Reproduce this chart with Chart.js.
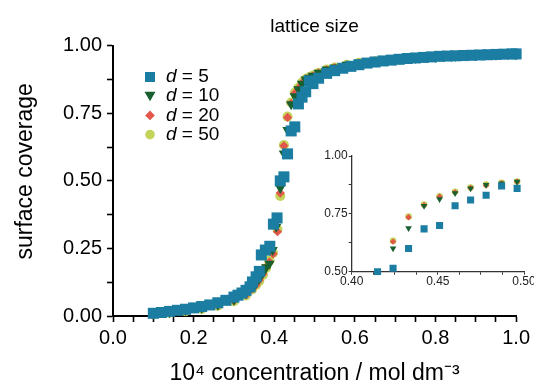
<!DOCTYPE html>
<html>
<head>
<meta charset="utf-8">
<script src="https://cdn.jsdelivr.net/npm/chart.js@4.4.0/dist/chart.umd.min.js"></script>
<style>
  html, body { margin: 0; padding: 0; background: #fff; overflow: hidden; }
  #wrap { position: relative; width: 534px; height: 390px; overflow: hidden; }
  #main { position: absolute; left: 0; top: 0; }
  #inset { position: absolute; left: 300px; top: 140px; }
</style>
</head>
<body>
<div id="wrap">
  <canvas id="main" width="534" height="390"></canvas>
  <canvas id="inset" width="260" height="160"></canvas>
</div>
<script>
// lattice sizes and their colours / markers
const latticeSizes = [5, 10, 20, 50];
const seriesColors = ['#1c7da2', '#18602f', '#e3574a', '#c4d45a'];
const seriesStyles = ['rect', 'triangle', 'rectRot', 'circle'];
const seriesRotation = [0, 180, 0, 0];

// concentration (10^4 mol dm^-3) and surface coverage
const d5Conc = [0.10,0.12,0.14,0.16,0.18,0.20,0.22,0.24,0.26,0.28,0.30,0.31,0.32,0.33,0.34,
  0.346,0.355,0.363,0.368,0.378,0.389,0.398,0.407,
  0.415,0.424,0.433,0.442,0.451,0.460,0.469,0.478,0.487,0.496,
  0.51,0.53,0.55,0.57,0.59,0.61,0.63,0.65,0.67,0.69,0.71,0.73,0.75,0.77,0.79,0.81,0.83,0.85,0.87,0.89,0.91,0.93,0.95,0.97,0.99,1.00];
const d5Cov = [0.010,0.013,0.017,0.021,0.025,0.030,0.035,0.041,0.049,0.058,0.070,0.077,0.085,0.095,0.108,
  0.126,0.145,0.165,0.226,0.244,0.258,0.340,0.363,
  0.500,0.515,0.600,0.685,0.700,0.785,0.810,0.830,0.870,0.860,
  0.880,0.898,0.908,0.917,0.924,0.930,0.936,0.940,0.944,0.947,0.950,0.953,0.955,0.957,0.959,0.961,0.962,0.963,0.964,0.965,0.966,0.967,0.968,0.969,0.970,0.970];

const d10Conc = [0.10,0.14,0.18,0.22,0.26,0.30,0.33,0.35,0.363,0.372,0.380,0.388,0.396,0.405,
  0.415,0.424,0.433,0.442,0.451,0.460,0.469,0.478,0.487,0.496,
  0.51,0.53,0.55,0.58,0.61,0.65,0.70,0.75,0.80,0.85,0.90,0.95,1.00];
const d10Cov = [0.008,0.014,0.021,0.030,0.042,0.060,0.085,0.110,0.140,0.160,0.180,0.193,0.244,0.330,
  0.474,0.601,0.688,0.784,0.813,0.839,0.860,0.875,0.882,0.889,
  0.900,0.912,0.920,0.930,0.937,0.943,0.949,0.955,0.959,0.962,0.965,0.967,0.969];

const d20Conc = [0.10,0.14,0.18,0.22,0.26,0.30,0.33,0.345,0.355,0.363,0.372,0.380,0.388,0.397,0.408,
  0.415,0.424,0.433,0.442,0.451,0.460,0.469,0.478,0.487,0.496,
  0.51,0.53,0.55,0.58,0.61,0.65,0.70,0.75,0.80,0.85,0.90,0.95,1.00];
const d20Cov = [0.007,0.012,0.019,0.027,0.039,0.056,0.078,0.100,0.115,0.133,0.155,0.180,0.200,0.230,0.312,
  0.455,0.630,0.735,0.787,0.824,0.843,0.862,0.873,0.882,0.889,
  0.899,0.911,0.919,0.929,0.936,0.942,0.948,0.954,0.958,0.961,0.964,0.966,0.968];

const d50Conc = [0.10,0.14,0.18,0.22,0.26,0.30,0.33,0.345,0.355,0.363,0.372,0.380,0.388,0.397,0.408,
  0.415,0.424,0.433,0.442,0.451,0.460,0.469,0.478,0.487,0.496,
  0.51,0.53,0.55,0.58,0.61,0.65,0.70,0.75,0.80,0.85,0.90,0.95,1.00];
const d50Cov = [0.007,0.012,0.018,0.026,0.038,0.055,0.076,0.098,0.115,0.130,0.152,0.178,0.205,0.233,0.320,
  0.444,0.633,0.738,0.790,0.826,0.845,0.864,0.877,0.884,0.890,
  0.900,0.912,0.920,0.930,0.937,0.943,0.949,0.955,0.959,0.962,0.965,0.967,0.969];

const allConc = [d5Conc, d10Conc, d20Conc, d50Conc];
const allCov = [d5Cov, d10Cov, d20Cov, d50Cov];

const FONT = "'Liberation Sans', Arial, Helvetica, sans-serif";

function onStep(v, step) {
  return Math.abs(v / step - Math.round(v / step)) < 1e-6;
}

function buildSets(radii, clip) {
  return latticeSizes.map(function (d, i) {
    return {
      label: 'd = ' + d,
      data: allConc[i].map(function (x, k) { return { x: x, y: allCov[i][k] }; }),
      showLine: false,
      pointStyle: seriesStyles[i],
      pointRotation: seriesRotation[i],
      pointRadius: radii[i],
      pointHoverRadius: radii[i],
      backgroundColor: seriesColors[i],
      pointBackgroundColor: seriesColors[i],
      borderColor: seriesColors[i],
      pointBorderWidth: 0,
      clip: clip
    };
  });
}

// legend drawn inside the plot, with an italic d
const insideLegend = {
  id: 'insideLegend',
  afterDatasetsDraw(chart) {
    const ctx = chart.ctx;
    const x0 = 150, y0 = 77, gap = 19.2;
    ctx.save();
    chart.data.datasets.forEach(function (ds, i) {
      const y = y0 + i * gap;
      ctx.fillStyle = seriesColors[i];
      ctx.beginPath();
      if (i === 0) {
        ctx.rect(x0 - 5, y - 5, 10, 10);
      } else if (i === 1) {
        ctx.moveTo(x0 - 5.5, y - 4.5);
        ctx.lineTo(x0 + 5.5, y - 4.5);
        ctx.lineTo(x0, y + 5);
      } else if (i === 2) {
        ctx.moveTo(x0, y - 4.8);
        ctx.lineTo(x0 + 4.8, y);
        ctx.lineTo(x0, y + 4.8);
        ctx.lineTo(x0 - 4.8, y);
      } else {
        ctx.arc(x0, y, 4.8, 0, Math.PI * 2);
      }
      ctx.closePath();
      ctx.fill();

      ctx.fillStyle = '#000';
      ctx.textBaseline = 'middle';
      ctx.textAlign = 'left';
      ctx.font = 'italic 19px ' + FONT;
      ctx.fillText('d', 166, y);
      const w = ctx.measureText('d').width;
      ctx.font = '19px ' + FONT;
      ctx.fillText(' = ' + latticeSizes[i], 166 + w, y);
    });
    ctx.restore();
  }
};

new Chart(document.getElementById('main'), {
  type: 'scatter',
  data: { datasets: buildSets([7.8, 6, 4.6, 5], false) },
  options: {
    responsive: false,
    animation: false,
    events: [],
    layout: { padding: { left: 0, right: 16, top: 0, bottom: 0 } },
    plugins: {
      legend: { display: false },
      tooltip: { enabled: false },
      title: {
        display: true,
        text: 'lattice size',
        fullSize: false,
        color: '#000',
        font: { family: FONT, size: 19, weight: 'normal' },
        padding: { top: 15, bottom: 8 }
      }
    },
    scales: {
      x: {
        type: 'linear',
        min: 0, max: 1,
        afterFit: function (s) { s.height = 74; },
        border: { display: true, color: '#000', width: 2 },
        grid: { drawOnChartArea: false, drawTicks: true, tickLength: 6, tickWidth: 1.6, tickColor: '#000' },
        ticks: {
          stepSize: 0.05, autoSkip: false, maxRotation: 0, padding: 4,
          color: '#000', font: { family: FONT, size: 20 },
          callback: function (v) { return onStep(v, 0.2) ? v.toFixed(1) : ''; }
        },
        title: {
          display: true,
          text: '10\u2074 concentration / mol dm\u207B\u00B3',
          color: '#000',
          font: { family: FONT, size: 23 },
          padding: { top: 0, bottom: 3 }
        }
      },
      y: {
        type: 'linear',
        min: 0, max: 1,
        afterFit: function (s) { s.width = 113; },
        border: { display: true, color: '#000', width: 2 },
        grid: { drawOnChartArea: false, drawTicks: true, tickLength: 6, tickWidth: 1.6, tickColor: '#000' },
        ticks: {
          stepSize: 0.125, autoSkip: false, padding: 5,
          color: '#000', font: { family: FONT, size: 20 },
          callback: function (v) { return onStep(v, 0.25) ? v.toFixed(2) : ''; }
        },
        title: {
          display: true,
          // leading spaces nudge the label up, as in the original
          text: '\u00A0\u00A0\u00A0surface coverage',
          color: '#000',
          font: { family: FONT, size: 23 },
          padding: { top: 12, bottom: 0 }
        }
      }
    }
  },
  plugins: [insideLegend]
});

// inset: zoom on the steep part of the isotherm
new Chart(document.getElementById('inset'), {
  type: 'scatter',
  data: { datasets: buildSets([5, 3.8, 3.2, 3.3], { left: 0, top: 4, right: 4, bottom: 3.5 }) },
  options: {
    responsive: false,
    animation: false,
    events: [],
    layout: { padding: { left: 0, right: 36, top: 16, bottom: 0 } },
    plugins: { legend: { display: false }, tooltip: { enabled: false } },
    scales: {
      x: {
        type: 'linear',
        min: 0.40, max: 0.50,
        afterFit: function (s) { s.height = 28.3; },
        border: { display: true, color: '#333', width: 1.3 },
        grid: { drawOnChartArea: false, drawTicks: true, tickLength: 3, tickWidth: 1, tickColor: '#333' },
        ticks: {
          stepSize: 0.0125, autoSkip: false, maxRotation: 0, padding: 0,
          color: '#222', font: { family: FONT, size: 12 },
          callback: function (v) { return onStep(v, 0.05) ? v.toFixed(2) : ''; }
        }
      },
      y: {
        type: 'linear',
        min: 0.5, max: 1,
        afterFit: function (s) { s.width = 51.7; },
        border: { display: true, color: '#333', width: 1.3 },
        grid: { drawOnChartArea: false, drawTicks: true, tickLength: 3, tickWidth: 1, tickColor: '#333' },
        ticks: {
          stepSize: 0.125, autoSkip: false, padding: 1,
          color: '#222', font: { family: FONT, size: 12 },
          callback: function (v) { return onStep(v, 0.25) ? v.toFixed(2) : ''; }
        }
      }
    }
  }
});
</script>
</body>
</html>
